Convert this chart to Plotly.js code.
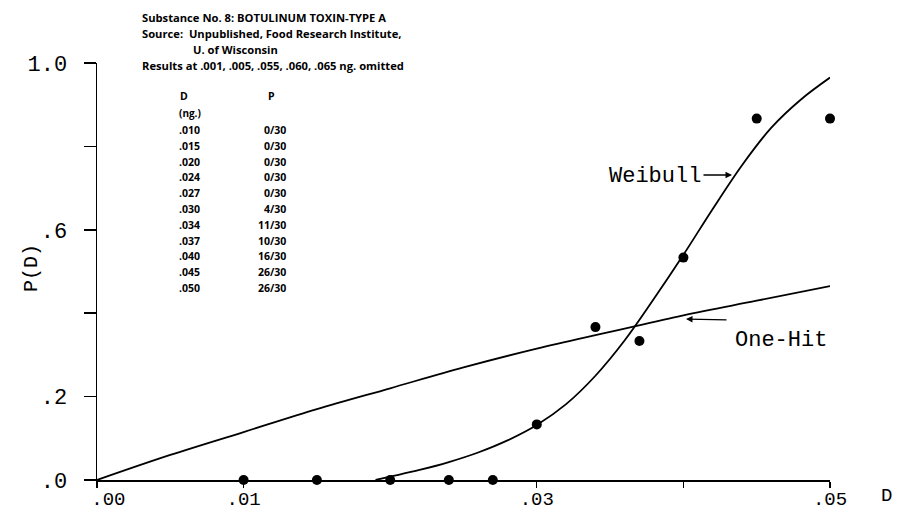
<!DOCTYPE html>
<html>
<head>
<meta charset="utf-8">
<script src="https://cdn.plot.ly/plotly-3.0.1.min.js"></script>
<style>html,body{margin:0;padding:0;background:#fff;}#chart{width:902px;height:510px;}</style>
</head>
<body>
<div id="chart"></div>
<script>
// ---- Data ----
const doseNg = [0.010, 0.015, 0.020, 0.024, 0.027, 0.030, 0.034, 0.037, 0.040, 0.045, 0.050];
const responders = [0, 0, 0, 0, 0, 4, 11, 10, 16, 26, 26];
const nTested = 30;

const weibullD = [0.019, 0.020, 0.022, 0.024, 0.026, 0.028, 0.030, 0.032, 0.034, 0.036, 0.038, 0.040, 0.042, 0.044, 0.046, 0.048, 0.050];
const weibullP = [0.000, 0.008, 0.024, 0.043, 0.066, 0.095, 0.132, 0.182, 0.250, 0.335, 0.435, 0.540, 0.650, 0.755, 0.845, 0.912, 0.965];

const oneHitD = [0, 0.005, 0.010, 0.015, 0.020, 0.025, 0.030, 0.035, 0.040, 0.045, 0.050];
const oneHitP = [0, 0.060, 0.115, 0.170, 0.220, 0.270, 0.315, 0.355, 0.395, 0.430, 0.465];

const xTickVals = [0, 0.01, 0.03, 0.04, 0.05];
const xTickText = ['\u00a0\u00a0.00', '.01', '.03', '', '.05'];
const yTickVals = [0, 0.2, 0.4, 0.6, 0.8, 1.0];
const yTickText = ['.0', '.2', '', '.6', '', '1.0'];

const headerLines = [
  'Substance No. 8: BOTULINUM TOXIN-TYPE A',
  'Source:  Unpublished, Food Research Institute,',
  'U. of Wisconsin',
  'Results at .001, .005, .055, .060, .065 ng. omitted'
];

// ---- Derived ----
const pObs = responders.map(r => r / nTested);
const tableD = doseNg.map(d => d.toFixed(3).replace(/^0/, ''));
const tableP = responders.map(r => r + '/' + nTested);

// plot area in pixels: x 97..830, y 480..63
const L = 97, R = 830, B = 480, T = 63;
const px = x => (x - L) / (R - L);
const py = y => (B - y) / (B - T);

const mono = 'Liberation Mono, Courier New, monospace';
const sans = 'Open Sans, Lato, sans-serif';

const traces = [
  {x: oneHitD, y: oneHitP, type: 'scatter', mode: 'lines', line: {color: '#000', width: 1.8, shape: 'spline'}, cliponaxis: false, hoverinfo: 'skip'},
  {x: weibullD, y: weibullP, type: 'scatter', mode: 'lines', line: {color: '#000', width: 1.8, shape: 'spline', smoothing: 1}, cliponaxis: false, hoverinfo: 'skip'},
  {x: doseNg, y: pObs, type: 'scatter', mode: 'markers', marker: {color: '#000', size: 10}, cliponaxis: false}
];

const ann = [];
// header
const headerY = [17, 33, 50, 66];
const headerX = [140, 140, 191, 140];
headerLines.forEach((t, i) => ann.push({
  xref: 'paper', yref: 'paper', x: px(headerX[i]), y: py(headerY[i]), xanchor: 'left', yanchor: 'middle',
  text: '<b>' + t + '</b>', showarrow: false, font: {family: sans, size: 11.2, color: '#000'}
}));
// table header
const tf = {family: sans, size: 10.5, color: '#000'};
ann.push({xref: 'paper', yref: 'paper', x: px(184), y: py(96), xanchor: 'center', yanchor: 'middle', text: '<b>D</b>', showarrow: false, font: tf});
ann.push({xref: 'paper', yref: 'paper', x: px(271), y: py(96), xanchor: 'center', yanchor: 'middle', text: '<b>P</b>', showarrow: false, font: tf});
ann.push({xref: 'paper', yref: 'paper', x: px(177), y: py(113), xanchor: 'left', yanchor: 'middle', text: '<b>(ng.)</b>', showarrow: false, font: {family: sans, size: 10, color: '#000'}});
tableD.forEach((t, i) => {
  const yy = 130 + i * 15.8;
  ann.push({xref: 'paper', yref: 'paper', x: px(177), y: py(yy), xanchor: 'left', yanchor: 'middle', text: '<b>' + t + '</b>', showarrow: false, font: tf});
  ann.push({xref: 'paper', yref: 'paper', x: px(288), y: py(yy), xanchor: 'right', yanchor: 'middle', text: '<b>' + tableP[i] + '</b>', showarrow: false, font: tf});
});
// curve labels
ann.push({xref: 'paper', yref: 'paper', x: px(655), y: py(176), xanchor: 'center', yanchor: 'middle', text: 'Weibull', showarrow: false, font: {family: mono, size: 22, color: '#000'}});
ann.push({xref: 'paper', yref: 'paper', x: px(732), y: py(175), text: '', showarrow: true, ax: -30, ay: 0, arrowhead: 2, arrowsize: 1, arrowwidth: 1.3, arrowcolor: '#000'});
ann.push({xref: 'paper', yref: 'paper', x: px(781), y: py(340), xanchor: 'center', yanchor: 'middle', text: 'One-Hit', showarrow: false, font: {family: mono, size: 22, color: '#000'}});
ann.push({xref: 'paper', yref: 'paper', x: px(686), y: py(319), text: '', showarrow: true, ax: 42, ay: 1, arrowhead: 2, arrowsize: 1, arrowwidth: 1.3, arrowcolor: '#000'});
// axis titles
ann.push({xref: 'paper', yref: 'paper', x: px(31), y: py(268), xanchor: 'center', yanchor: 'middle', text: 'P(D)', textangle: -90, showarrow: false, font: {family: mono, size: 20, color: '#000'}});
ann.push({xref: 'paper', yref: 'paper', x: px(886), y: py(496), xanchor: 'center', yanchor: 'middle', text: 'D', showarrow: false, font: {family: mono, size: 19, color: '#000'}});

const layout = {
  width: 902, height: 510,
  margin: {l: L, r: 902 - R, t: T, b: 510 - B, pad: 0},
  paper_bgcolor: '#fff', plot_bgcolor: '#fff',
  showlegend: false,
  xaxis: {
    range: [0, 0.05], showgrid: false, zeroline: false, showline: true, linecolor: '#000', linewidth: 1.5,
    ticks: 'outside', ticklen: 6, tickwidth: 1.3, tickcolor: '#000',
    tickmode: 'array', tickvals: xTickVals, ticktext: xTickText,
    tickfont: {family: mono, size: 19, color: '#000'}, ticklabelstandoff: -5
  },
  yaxis: {
    range: [0, 1], showgrid: false, zeroline: false, showline: true, linecolor: '#000', linewidth: 1.5,
    ticks: 'outside', ticklen: 12, tickwidth: 1.5, tickcolor: '#000',
    tickmode: 'array', tickvals: yTickVals, ticktext: yTickText,
    tickfont: {family: mono, size: 22, color: '#000'}, ticklabelstandoff: 12
  },
  annotations: ann
};

Plotly.newPlot('chart', traces, layout, {staticPlot: true, displayModeBar: false});
</script>
</body>
</html>
